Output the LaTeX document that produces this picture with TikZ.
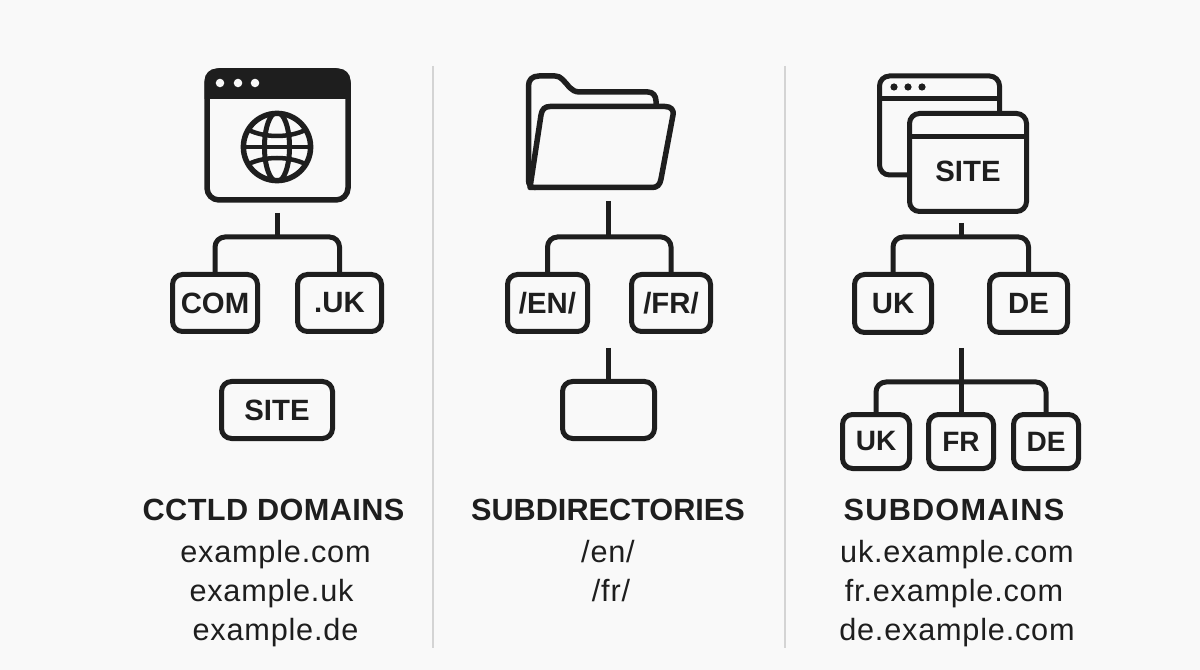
\documentclass[tikz,border=0pt]{standalone}
\usepackage{fontspec}
\setmainfont{Liberation Sans}
\definecolor{ink}{HTML}{1E1E1E}
\definecolor{paper}{HTML}{F9F9F9}
\definecolor{rulec}{HTML}{D4D4D4}
\tikzset{
  x=0.75pt,y=-0.75pt,
  px/.style={line width=#1*0.75pt},
  ln/.style={draw=ink,px=5,rounded corners=7.5pt,line cap=butt},
  boxn/.style={draw=ink,px=5,rounded corners=7.5pt,outer sep=0pt,inner sep=0pt,fill=paper,
    text=ink,font=\fontsize{22}{22}\selectfont\bfseries},
  small/.style={boxn,font=\fontsize{21}{21}\selectfont\bfseries},
  ttl/.style={anchor=base,text=ink,inner sep=0pt,font=\fontsize{23}{23}\selectfont\bfseries},
  bodyt/.style={anchor=base,text=ink,inner sep=0pt,font=\fontsize{23}{23}\selectfont\addfontfeatures{LetterSpace=2.6}},
  divl/.style={draw=rulec,px=1.5},
  bx/.style n args={2}{minimum width=#1*0.75pt,minimum height=#2*0.75pt},
}
\begin{document}
\begin{tikzpicture}
\useasboundingbox[fill=paper] (0,0) rectangle (1200,670);
% dividers
\coordinate (d1a) at (433,66); \coordinate (d1b) at (433,648);
\coordinate (d2a) at (785,66); \coordinate (d2b) at (785,648);
\draw[divl] (d1a) -- (d1b);
\draw[divl] (d2a) -- (d2b);

% ---- column 1
\node[boxn,bx={141}{129},rounded corners=9pt,px=5.5] (browser) at (277.5,135.5) {};
\fill[ink] (204.5,99) [rounded corners=9pt] -- (204.5,68.5) -- (350.5,68.5) [sharp corners] -- (350.5,99) -- cycle;
\foreach \x in {220,238,255} \fill[paper] (\x,83) circle[radius=3.2pt];
\begin{scope}
  \clip (277,147) circle[radius=25.5pt];
  \draw[ink,px=5] (277,147) ellipse[x radius=9.4pt,y radius=26pt];
  \draw[ink,px=4.5] (240,147) -- (314,147);
  \draw[ink,px=4.5] (243,127) .. controls (262,139) and (292,139) .. (311,127);
  \draw[ink,px=4.5] (243,167) .. controls (262,155) and (292,155) .. (311,167);
\end{scope}
\draw[ink,px=5.5] (277,147) circle[radius=25.2pt];
\node[boxn,bx={85}{57}] (com) at (215,303) {COM};
\node[boxn,bx={84}{57}] (uk) at (339.5,303) {.UK};
\node[boxn,bx={111}{57}] (site1) at (277,410) {SITE};
\coordinate (t1) at (277,213);
\coordinate (b1) at (277,237);
\draw[ln] (com.north) |- (b1) -| (uk.north);
\draw[ln] (t1) -- (b1);
\node[ttl] (h1) at (273.5,520) {\addfontfeatures{LetterSpace=1.3}CCTLD DOMAINS};
\node[bodyt] (l11) at (275.5,562) {example.com};
\node[bodyt] (l12) at (271.5,601) {example.uk};
\node[bodyt] (l13) at (275.5,640) {example.de};

% ---- column 2
\draw[ink,px=5.5,line join=round,fill=paper]
  (656,108) -- (656,101) .. controls (656,96) and (653,92) .. (648,92) -- (580,92)
  .. controls (570,92) and (568,84) .. (562,79) .. controls (560,77) and (558,76) .. (555,76)
  -- (539,76) .. controls (532,76) and (528.5,80) .. (528.5,86) -- (528.5,180)
  .. controls (528.5,185) and (531,187.5) .. (536,187.5);
\draw[ink,px=5.5,line join=round,fill=paper]
  (530,187.5) -- (541,115) .. controls (542,109) and (545,106.5) .. (550,106.5)
  -- (665,106.5) .. controls (671,106.5) and (674,110) .. (673,115)
  -- (661,179) .. controls (660,185) and (657,187.5) .. (652,187.5) -- cycle;
\node[boxn,bx={80}{57}] (en) at (547.5,303) {/EN/};
\node[boxn,bx={79}{57}] (fr) at (671,303) {/FR/};
\node[boxn,bx={92}{57}] (empty) at (608.5,410) {};
\coordinate (t2) at (608,201);
\coordinate (b2) at (608,237);
\coordinate (t3) at (608,348);
\draw[ln] (en.north) |- (b2) -| (fr.north);
\draw[ln] (t2) -- (b2);
\draw[ln] (t3) -- (t3 |- empty.north);
\node[ttl] (h2) at (608,520) {SUBDIRECTORIES};
\node[bodyt] (l21) at (608,562) {/en/};
\node[bodyt] (l22) at (611,601) {/fr/};

% ---- column 3
\node[boxn,bx={120}{99}] (back) at (939.5,125.5) {};
\draw[ink,px=5] (back.west |- 0,99) -- (back.east |- 0,99);
\foreach \x in {894,908,922} \fill[ink] (\x,87) circle[radius=2.7pt];
\node[boxn,bx={117}{98}] (front) at (968,162.5) {};
\draw[ink,px=5] (front.west |- 0,137) -- (front.east |- 0,137);
\node[text=ink,inner sep=0pt,font=\fontsize{22}{22}\selectfont\bfseries] (site3) at (968,171) {SITE};
\node[boxn,bx={77}{58}] (uk3) at (893,303.5) {UK};
\node[boxn,bx={78}{58}] (de3) at (1028.5,303.5) {DE};
\node[small,bx={67}{54}] (uk4) at (876,441.5) {UK};
\node[small,bx={65}{54}] (fr4) at (961,441.5) {FR};
\node[small,bx={65}{54}] (de4) at (1046,441.5) {DE};
\coordinate (t4) at (961,223);
\coordinate (b4) at (961,237);
\coordinate (t5) at (961,348);
\coordinate (b5) at (961,382);
\draw[ln] (uk3.north) |- (b4) -| (de3.north);
\draw[ln] (t4) -- (b4);
\draw[ln] (uk4.north) |- (b5) -| (de4.north);
\draw[ln] (t5) -- (fr4.north);
\node[ttl] (h3) at (954,520) {\addfontfeatures{LetterSpace=4}SUBDOMAINS};
\node[bodyt] (l31) at (957,562) {uk.example.com};
\node[bodyt] (l32) at (954,601) {fr.example.com};
\node[bodyt] (l33) at (957,640) {de.example.com};
\end{tikzpicture}
\end{document}
